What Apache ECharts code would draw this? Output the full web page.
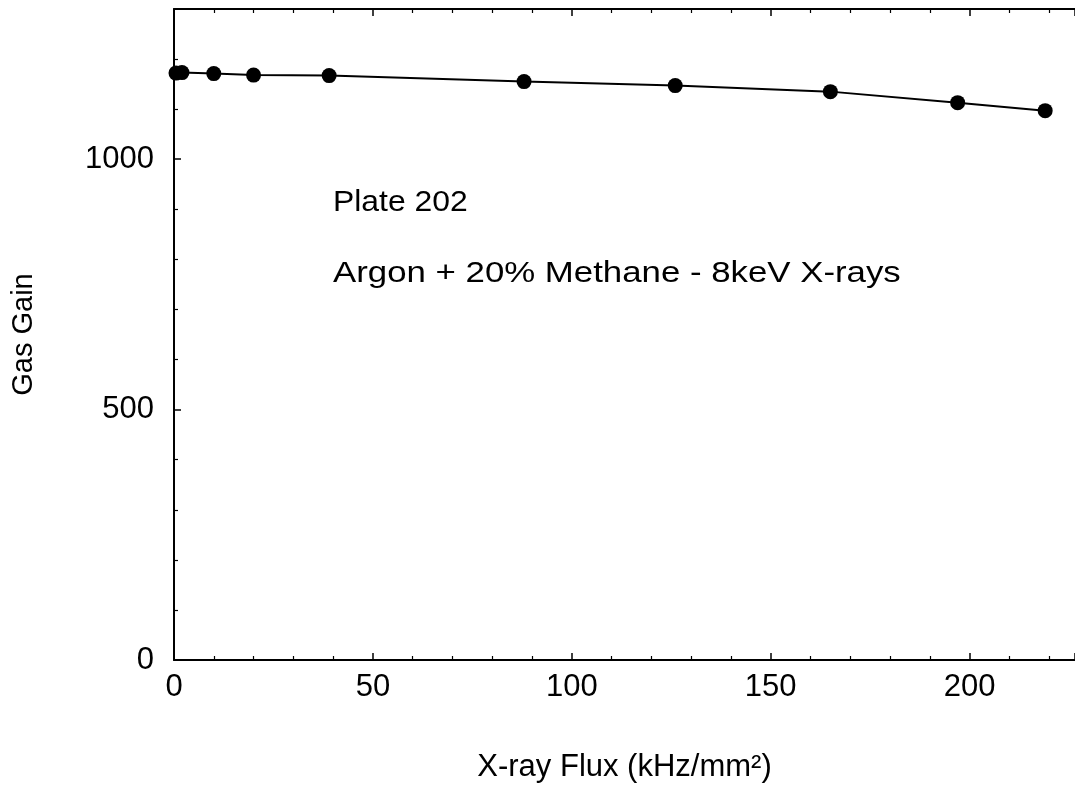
<!DOCTYPE html>
<html>
<head>
<meta charset="utf-8">
<script src="https://cdn.jsdelivr.net/npm/echarts@6/dist/echarts.min.js"></script>
<style>
    html, body { margin: 0; padding: 0; background: #fff; }
    #chart { width: 1075px; height: 789px; }
</style>
</head>
<body>
<div id="chart"></div>
<script>
    // X-ray flux (kHz/mm^2) and measured gas gain
    const flux = [0.5, 2, 10, 20, 39, 88, 126, 165, 197, 219];
    const gain = [1172, 1173, 1171, 1168, 1167, 1155, 1147, 1135, 1113, 1097];

    const xTicks = [0, 50, 100, 150, 200];
    const yTicks = [0, 500, 1000];

    const font = 'Liberation Sans, Arial, sans-serif';

    let chart = echarts.init(document.getElementById('chart'));

    const xBase = {
        type: 'value',
        min: 0,
        max: 226.5,
        interval: 50,
        splitLine: {show: false},
        axisLine: {lineStyle: {color: '#000', width: 2}},
        axisTick: {inside: true, length: 7, lineStyle: {color: '#000', width: 1.5}},
        minorTick: {show: true, splitNumber: 5, length: 4, lineStyle: {color: '#000', width: 1.2}}
    };

    chart.setOption({
        backgroundColor: '#fff',
        animation: false,
        grid: {left: 174, right: 0, top: 9, bottom: 129},
        xAxis: [
            Object.assign({}, xBase, {
                position: 'bottom',
                name: 'X-ray Flux (kHz/mm²)',
                nameLocation: 'middle',
                nameGap: 92,
                nameTextStyle: {color: '#000', fontSize: 31, fontFamily: font},
                axisLabel: {
                    color: '#000', fontSize: 31, fontFamily: font, margin: 12,
                    showMaxLabel: false,
                    formatter: v => xTicks.includes(v) ? String(v) : ''
                }
            }),
            Object.assign({}, xBase, {
                position: 'top',
                axisLabel: {show: false}
            })
        ],
        yAxis: {
            type: 'value',
            min: 0,
            max: 1300,
            interval: 500,
            name: 'Gas Gain',
            nameLocation: 'middle',
            nameGap: 136,
            nameTextStyle: {color: '#000', fontSize: 29, fontFamily: font},
            splitLine: {show: false},
            axisLine: {show: true, lineStyle: {color: '#000', width: 2}},
            axisTick: {show: true, inside: true, length: 7, lineStyle: {color: '#000', width: 1.5}},
            minorTick: {show: true, splitNumber: 5, length: 4, lineStyle: {color: '#000', width: 1.2}},
            axisLabel: {
                color: '#000', fontSize: 31, fontFamily: font, margin: 20,
                showMaxLabel: false,
                formatter: v => yTicks.includes(v) ? String(v) : ''
            }
        },
        graphic: [
            {
                type: 'text', x: 333, y: 188, scaleX: 1.1,
                style: {text: 'Plate 202', fill: '#000', font: '29px ' + font}
            },
            {
                type: 'text', x: 333, y: 259, scaleX: 1.2,
                style: {text: 'Argon + 20% Methane - 8keV X-rays', fill: '#000', font: '29px ' + font}
            }
        ],
        series: [
            {
                name: 'Gas Gain',
                type: 'line',
                data: flux.map((x, i) => [x, gain[i]]),
                symbol: 'circle',
                symbolSize: 15,
                itemStyle: {color: '#000'},
                lineStyle: {color: '#000', width: 2},
                clip: false
            }
        ]
    });
</script>
</body>
</html>
